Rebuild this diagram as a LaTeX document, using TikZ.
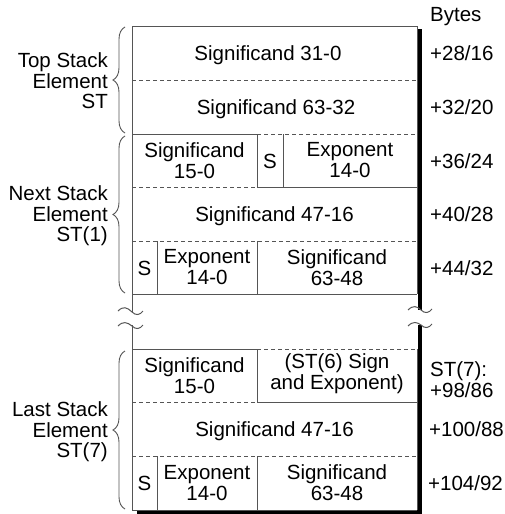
\documentclass[tikz,border=0pt]{standalone}
\usepackage{fontspec}
\setmainfont{Liberation Sans}
\usetikzlibrary{decorations.pathreplacing}
\definecolor{linegray}{RGB}{85,85,85}
\begin{document}
\begin{tikzpicture}[x=1pt,y=-1pt,
  solidline/.style={draw=linegray,line width=1pt},
  dashline/.style={draw=linegray,line width=1pt,dash pattern=on 4pt off 3pt},
  shadowline/.style={draw=black,line width=4pt},
  squig/.style={draw=linegray,line width=1pt},
  celltxt/.style={font=\fontsize{20.5}{21}\selectfont,inner sep=0pt},
  celltwo/.style={font=\fontsize{20.5}{21}\selectfont,align=center,inner sep=0pt},
  offs/.style={font=\fontsize{20.5}{21}\selectfont,anchor=base west,inner sep=0pt},
  offstwo/.style={font=\fontsize{20.5}{21}\selectfont,align=left,anchor=west,inner sep=0pt},
  lab/.style={font=\fontsize{20.5}{20.5}\selectfont,align=right,anchor=east,inner sep=0pt},
  stackbrace/.style={draw=linegray,line width=0.9pt,decorate,decoration={brace,amplitude=12pt}}
]
\useasboundingbox (0,0) rectangle (505,514);

% ---------- shadow (thick black) lines ----------
\draw[shadowline] (419.5,29) -- (419.5,310);
\draw[shadowline] (419.5,325) -- (419.5,514);
\draw[shadowline] (137,512) -- (421.5,512);

% ---------- upper box ----------
\draw[solidline] (132,26) -- (417,26);
\draw[solidline] (132,26) -- (132,312);
\draw[solidline] (417,26) -- (417,294);
\draw[dashline] (132,80) -- (417,80);
\draw[solidline] (132,134) -- (257,134);
\draw[dashline] (257,134) -- (417,134);
\draw[solidline] (257,134) -- (257,187);
\draw[solidline] (283,134) -- (283,187);
\draw[dashline] (132,187) -- (257,187);
\draw[solidline] (257,187) -- (417,187);
\draw[dashline] (132,241) -- (417,241);
\draw[solidline] (157,241) -- (157,294);
\draw[solidline] (257,241) -- (257,294);
\draw[solidline] (132,294) -- (417,294);

% ---------- break marks ----------
\draw[squig] (118,311) .. controls (123,306) and (127,307) .. (132,312) .. controls (136,316) and (140,315) .. (143,311);
\draw[squig] (118,326) .. controls (123,321) and (127,322) .. (132,326) .. controls (136,330) and (140,329) .. (143,325);
\draw[squig] (408,310) .. controls (413,305) and (417,306) .. (421,310) .. controls (425,314) and (429,313) .. (432,309);
\draw[squig] (408,326) .. controls (413,321) and (417,322) .. (421,325) .. controls (425,329) and (429,328) .. (432,324);

% ---------- lower box ----------
\draw[solidline] (132,325) -- (132,510);
\draw[solidline] (417,349) -- (417,510);
\draw[solidline] (132,349) -- (257,349);
\draw[dashline] (257,349) -- (417,349);
\draw[solidline] (257,349) -- (257,402);
\draw[dashline] (132,402) -- (257,402);
\draw[solidline] (257,402) -- (417,402);
\draw[dashline] (132,456) -- (417,456);
\draw[solidline] (157,456) -- (157,510);
\draw[solidline] (257,456) -- (257,510);
\draw[solidline] (132,510) -- (417,510);

% ---------- cell texts ----------
\node[celltxt,anchor=base] (s310) at (268,60.5) {Significand 31-0};
\node[celltxt,anchor=base] (s6332) at (276,114.5) {Significand 63-32};
\node[celltwo] (s150a) at (194.5,160.5) {Significand\\15-0};
\node[celltxt,anchor=base] (sa) at (270,168) {S};
\node[celltwo] (expa) at (350,160.5) {Exponent\\14-0};
\node[celltxt,anchor=base] (s4716a) at (274.5,221.5) {Significand 47-16};
\node[celltxt,anchor=base] (sb) at (144.5,275) {S};
\node[celltwo] (expb) at (207,267.5) {Exponent\\14-0};
\node[celltwo] (s6348a) at (337,267.5) {Significand\\63-48};

\node[celltwo] (s150b) at (194.5,375.5) {Significand\\15-0};
\node[celltwo] (st6) at (337,373.5) {(ST(6) Sign\\and Exponent)};
\node[celltxt,anchor=base] (s4716b) at (274.5,436.5) {Significand 47-16};
\node[celltxt,anchor=base] (sc) at (144.5,490.5) {S};
\node[celltwo] (expc) at (207,483) {Exponent\\14-0};
\node[celltwo] (s6348b) at (337,483) {Significand\\63-48};

% ---------- byte offsets ----------
\node[offs] (bytes) at (430,21) {Bytes};
\node[offs] (o1) at (430,60.5) {+28/16};
\node[offs] (o2) at (430,114.5) {+32/20};
\node[offs] (o3) at (430,168) {+36/24};
\node[offs] (o4) at (430,221.5) {+40/28};
\node[offs] (o5) at (430,275) {+44/32};
\node[offstwo] (o6) at (430,380) {ST(7):\\+98/86};
\node[offs] (o7) at (429,436.5) {+100/88};
\node[offs] (o8) at (428,490.5) {+104/92};

% ---------- braces and labels ----------
\draw[stackbrace] (125,133) -- (125,27);
\draw[stackbrace] (125,293) -- (125,136);
\draw[stackbrace] (125,509) -- (125,351);
\node[lab] (ltop) at (108,81) {Top Stack\\Element\\ST};
\node[lab] (lnext) at (108,216) {Next Stack\\Element\\ST(1)};
\node[lab] (llast) at (108,432) {Last Stack\\Element\\ST(7)};
\end{tikzpicture}
\end{document}
